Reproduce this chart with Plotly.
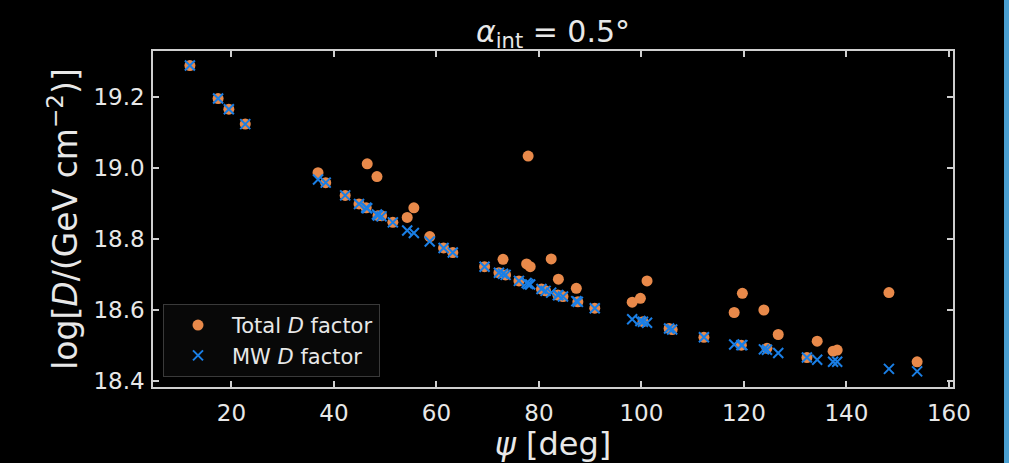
import plotly.graph_objects as go

psi = [11.9, 17.4, 19.5, 22.7, 36.9, 38.4, 42.2, 44.9, 46.3, 46.5, 48.4, 48.6, 49.3,
       51.5, 54.3, 55.6, 58.7, 61.4, 63.2, 69.4, 72.2, 73.0, 73.5, 76.1, 77.6, 77.9,
       78.3, 80.5, 81.3, 82.4, 83.7, 83.8, 84.7, 87.3, 87.6, 90.9, 98.2, 99.8, 100.3,
       101.1, 105.4, 106.0, 112.2, 118.1, 119.5, 119.7, 123.9, 124.5, 126.7, 132.3,
       134.3, 137.4, 138.2, 148.3, 153.8]
total_d = [19.288, 19.195, 19.165, 19.123, 18.986, 18.958, 18.922, 18.898, 18.887, 19.011,
           18.975, 18.865, 18.865, 18.846, 18.860, 18.887, 18.806, 18.774, 18.761, 18.721,
           18.704, 18.742, 18.698, 18.681, 18.729, 19.033, 18.721, 18.658, 18.653, 18.743,
           18.641, 18.686, 18.637, 18.660, 18.622, 18.604, 18.621, 18.632, 18.566, 18.681,
           18.547, 18.544, 18.522, 18.592, 18.500, 18.646, 18.599, 18.491, 18.530, 18.465,
           18.511, 18.483, 18.486, 18.648, 18.453]
mw_d = [19.288, 19.195, 19.165, 19.123, 18.967, 18.958, 18.922, 18.898, 18.887, 18.886,
        18.868, 18.865, 18.863, 18.846, 18.823, 18.816, 18.792, 18.774, 18.761, 18.721,
        18.704, 18.701, 18.698, 18.681, 18.675, 18.672, 18.671, 18.658, 18.653, 18.648,
        18.641, 18.641, 18.637, 18.624, 18.622, 18.604, 18.573, 18.568, 18.566, 18.563,
        18.547, 18.544, 18.522, 18.502, 18.500, 18.500, 18.488, 18.487, 18.478, 18.465,
        18.459, 18.453, 18.453, 18.433, 18.426]

x_ticks = [20, 40, 60, 80, 100, 120, 140, 160]
y_ticks = [18.4, 18.6, 18.8, 19.0, 19.2]

ORANGE = "#E8894A"
BLUE = "#1A7FE6"
AX = "#cfcfcf"
TXT = "#e8e8e8"
FONT = "DejaVu Sans"

fig = go.Figure()
fig.add_trace(go.Scatter(
    x=psi, y=total_d, mode="markers", name="Total <i>D</i> factor",
    marker=dict(symbol="circle", size=11, color=ORANGE, line=dict(width=0)),
))
fig.add_trace(go.Scatter(
    x=psi, y=mw_d, mode="markers", name="MW <i>D</i> factor",
    marker=dict(symbol="x-thin", size=10, color=BLUE, line=dict(width=2, color=BLUE)),
))

axis_common = dict(
    showline=True, linecolor=AX, linewidth=1.5, mirror="ticks",
    ticks="inside", ticklen=6, tickwidth=1.5, tickcolor=AX,
    showgrid=False, zeroline=False,
    tickfont=dict(family=FONT, size=23, color=TXT),
)

fig.update_layout(
    width=1009, height=463,
    paper_bgcolor="black", plot_bgcolor="black",
    margin=dict(l=153, r=56, t=51, b=76),
    title=dict(text="<i>α</i><sub>int</sub> = 0.5°", x=(153 + 400) / 1009, xanchor="center",
               y=1 - 31 / 463, yanchor="middle",
               font=dict(family=FONT, size=30, color=TXT)),
    xaxis=dict(range=[4.7, 160.8], tickvals=x_ticks, ticktext=[str(v) for v in x_ticks],
               ticklabelstandoff=5,
               title=dict(text="<i>ψ</i> [deg]", standoff=2,
                          font=dict(family=FONT, size=32, color=TXT)),
               **axis_common),
    yaxis=dict(range=[18.382, 19.329], tickvals=y_ticks, ticktext=[f"{v:.1f}" for v in y_ticks],
               ticklabelstandoff=2,
               title=dict(text="log[<i>D</i>/(GeV cm<sup>−2</sup>)]", standoff=6,
                          font=dict(family=FONT, size=33, color=TXT)),
               **axis_common),
    legend=dict(x=0.0125, y=0.03, xanchor="left", yanchor="bottom",
                bgcolor="rgba(8,8,8,1)", bordercolor="#3a3a3a", borderwidth=1,
                font=dict(family=FONT, size=21, color=TXT),
                itemwidth=58, tracegroupgap=0),
    showlegend=True,
)

post = (
    "document.body.style.margin='0';"
    "document.body.style.background='black';"
    "var bar=document.createElement('div');"
    "bar.style.cssText='position:fixed;left:1004px;top:0;width:10px;height:100%;"
    "background:#4A9FD0;z-index:9999;';"
    "document.body.appendChild(bar);"
)
fig.write_html("out.html", config={"displayModeBar": False}, post_script=post)
